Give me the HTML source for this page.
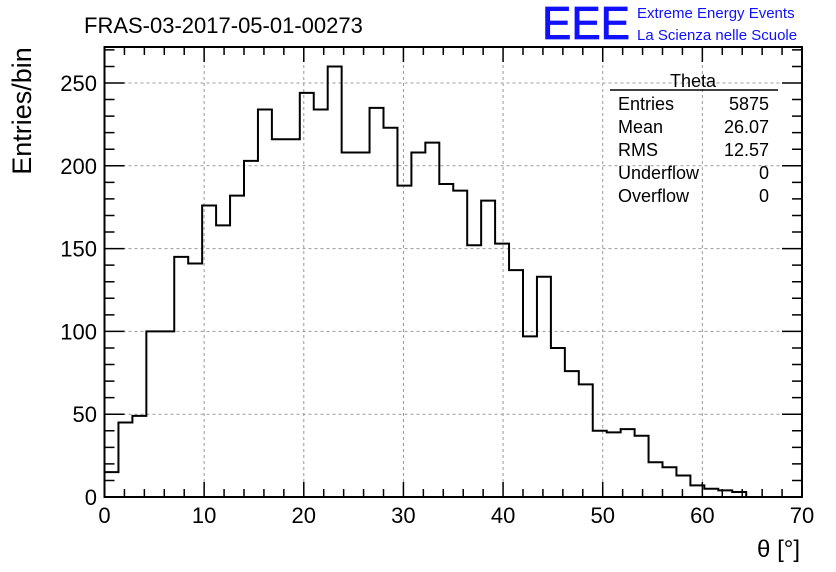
<!DOCTYPE html>
<html><head><meta charset="utf-8"><style>
body{margin:0;background:#fff;}
svg{display:block;font-family:"Liberation Sans",sans-serif;}
</style></head><body>
<svg id="c" width="836" height="572">
<text x="84" y="33" font-size="22">FRAS-03-2017-05-01-00273</text>
<text x="542" y="39" font-size="46" fill="#1010ff" stroke="#1010ff" stroke-width="0.8" textLength="88" lengthAdjust="spacingAndGlyphs">EEE</text>
<text x="637" y="18" font-size="15" fill="#1010ff">Extreme Energy Events</text>
<text x="637" y="40" font-size="15" fill="#1010ff">La Scienza nelle Scuole</text>
<text transform="translate(31,111) rotate(-90)" text-anchor="middle" font-size="27">Entries/bin</text>
<text x="800" y="557" text-anchor="end" font-size="24">θ [°]</text>
<g id="grid"></g><g id="axes"></g><path id="hist" fill="none" stroke="#000" stroke-width="2"></path>
<g font-size="18">
<line x1="610" y1="90" x2="778" y2="90" stroke="#000" stroke-width="1.5"/>
<text x="693" y="87" text-anchor="middle">Theta</text>
<text x="618" y="110">Entries</text><text x="769" y="110" text-anchor="end">5875</text>
<text x="618" y="133">Mean</text><text x="769" y="133" text-anchor="end">26.07</text>
<text x="618" y="156">RMS</text><text x="769" y="156" text-anchor="end">12.57</text>
<text x="618" y="179">Underflow</text><text x="769" y="179" text-anchor="end">0</text>
<text x="618" y="202">Overflow</text><text x="769" y="202" text-anchor="end">0</text>
</g>
</svg>
<script>
const binWidth = 1.4;
const counts = [15,45,49,100,100,145,141,176,164,182,203,234,216,216,244,234,260,208,208,235,223,188,208,214,189,185,152,179,153,137,97,133,90,76,68,40,39,41,37,21,18,13,7,5,4,3];
const xTicks = [0,10,20,30,40,50,60,70];
const yTicks = [0,50,100,150,200,250];
const L=104.5,R=802,T=47,B=497;
const X=v=>L+(v/70)*(R-L), Y=v=>B-v*(B-83)/250;
const ns="http://www.w3.org/2000/svg", svg=document.getElementById('c');
const grid=document.getElementById('grid'), axes=document.getElementById('axes');
function el(tag,attrs,parent){const e=document.createElementNS(ns,tag);for(const k in attrs)e.setAttribute(k,attrs[k]);parent.appendChild(e);return e;}
let d=`M${X(0)},${B}`;
counts.forEach((c,i)=>{d+=` L${X(i*binWidth)},${Y(c)} L${X((i+1)*binWidth)},${Y(c)}`;});
d+=` L${X(counts.length*binWidth)},${B}`;
document.getElementById('hist').setAttribute('d',d);
xTicks.forEach(t=>{
 if(t>0&&t<70){const g=el('line',{x1:X(t),x2:X(t),y1:T,y2:B,stroke:'#999','stroke-dasharray':'3,3','stroke-width':1},grid);
 
 }
 const tx=el('text',{x:X(t),y:523,'text-anchor':'middle','font-size':22},axes);tx.textContent=t;
 
 
});
yTicks.forEach(t=>{
 if(t>0){const g=el('line',{x1:L,x2:R,y1:Y(t),y2:Y(t),stroke:'#999','stroke-dasharray':'3,3','stroke-width':1},grid);
 
 }
 const tx=el('text',{x:97,y:Y(t)+8,'text-anchor':'end','font-size':22},axes);tx.textContent=t;
 
 
});
let tk='';
for(let v=0;v<=70;v+=2){const len=v%10===0?15:8;tk+=`M${X(v)},${B}v${-len}M${X(v)},${T}v${len}`;}
for(let v=0;v<=270;v+=10){const len=v%50===0?20:10;tk+=`M${L},${Y(v)}h${len}M${R},${Y(v)}h${-len}`;}
const ticks=el('path',{d:tk,stroke:'#000','stroke-width':1.5,fill:'none'},axes);


const frame=el('rect',{x:L,y:T,width:R-L,height:B-T,fill:'none',stroke:'#000','stroke-width':2},axes);


</script>
</body></html>
